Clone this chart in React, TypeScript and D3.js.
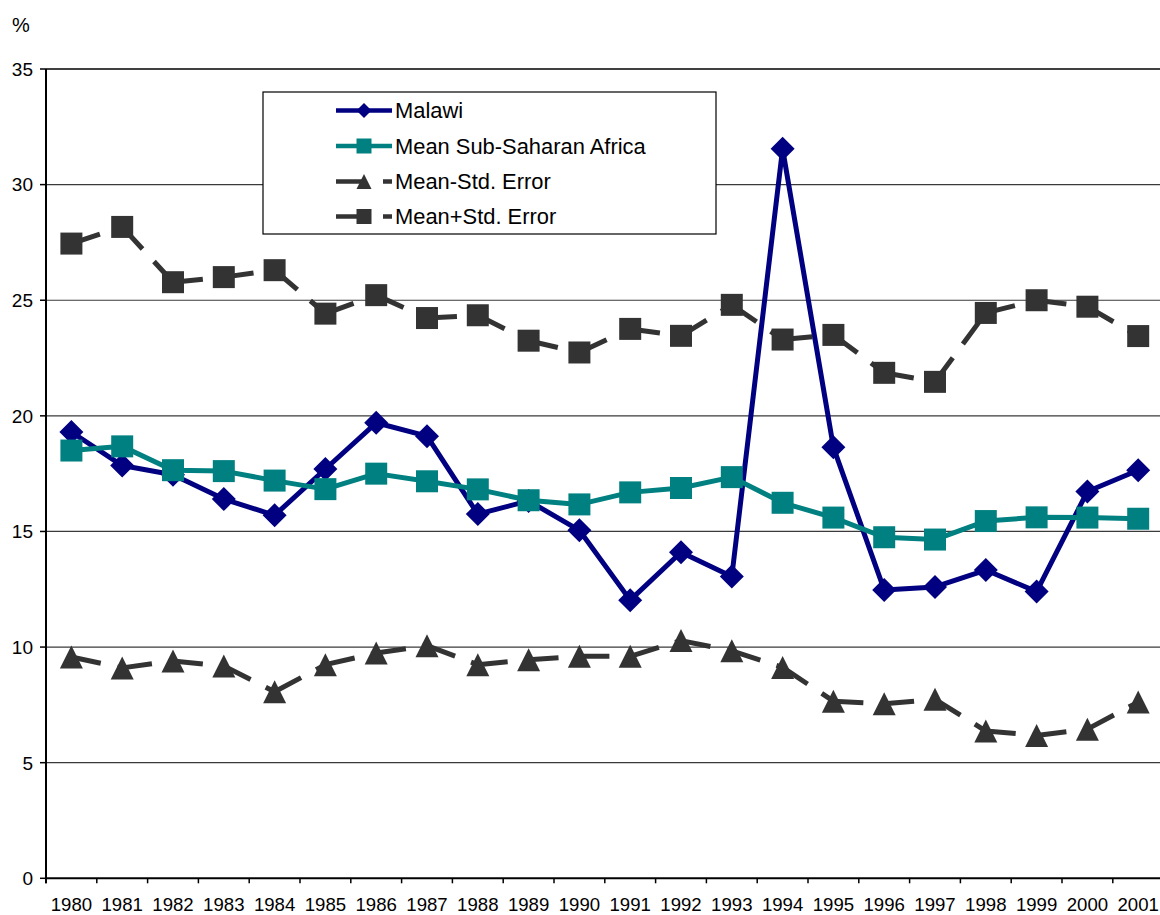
import React from "react";
import * as d3 from "d3";

const years = [
  "1980", "1981", "1982", "1983", "1984", "1985", "1986", "1987", "1988", "1989", "1990",
  "1991", "1992", "1993", "1994", "1995", "1996", "1997", "1998", "1999", "2000", "2001",
];

const malawi = [
  19.3, 17.85, 17.45, 16.4, 15.7, 17.7, 19.7, 19.12, 15.75, 16.32, 15.05,
  12.03, 14.1, 13.05, 31.55, 18.64, 12.47, 12.6, 13.33, 12.4, 16.73, 17.65,
];

const meanSSA = [
  18.5, 18.68, 17.65, 17.61, 17.2, 16.83, 17.5, 17.17, 16.82, 16.35, 16.17,
  16.69, 16.88, 17.35, 16.24, 15.6, 14.75, 14.65, 15.45, 15.61, 15.6, 15.55,
];

const meanMinusSE = [
  9.57, 9.1, 9.4, 9.18, 8.07, 9.24, 9.74, 10.06, 9.24, 9.45, 9.6,
  9.6, 10.28, 9.84, 9.12, 7.66, 7.55, 7.74, 6.37, 6.18, 6.45, 7.62,
];

const meanPlusSE = [
  27.45, 28.17, 25.78, 26.0, 26.3, 24.42, 25.22, 24.23, 24.35, 23.25, 22.74,
  23.76, 23.46, 24.8, 23.3, 23.5, 21.86, 21.47, 24.45, 25.0, 24.72, 23.45,
];

const yTicks = [0, 5, 10, 15, 20, 25, 30, 35];

type Marker = "diamond" | "square" | "triangle";

interface Series {
  name: string;
  values: number[];
  color: string;
  marker: Marker;
  dashed: boolean;
}

const series: Series[] = [
  { name: "Malawi", values: malawi, color: "#000080", marker: "diamond", dashed: false },
  { name: "Mean Sub-Saharan Africa", values: meanSSA, color: "#008080", marker: "square", dashed: false },
  { name: "Mean-Std. Error", values: meanMinusSE, color: "#333333", marker: "triangle", dashed: true },
  { name: "Mean+Std. Error", values: meanPlusSE, color: "#333333", marker: "square", dashed: true },
];

const W = 1160;
const H = 915;
const left = 46;
const right = 1163.6;
const top = 69;
const bottom = 878.3;
const FONT = "'Liberation Sans', Arial, sans-serif";

const x = d3.scaleBand<string>().domain(years).range([left, right]);
const y = d3.scaleLinear().domain([0, 35]).range([bottom, top]);
const cx = (yr: string) => (x(yr) as number) + x.bandwidth() / 2;

function markerPath(kind: Marker, size: number): string {
  const h = size / 2;
  if (kind === "diamond") return `M0,${-h}L${h},0L0,${h}L${-h},0Z`;
  if (kind === "square") return `M${-h},${-h}H${h}V${h}H${-h}Z`;
  return `M0,${-h}L${h},${h}L${-h},${h}Z`;
}

const MarkerShape: React.FC<{ kind: Marker; size: number; color: string; px: number; py: number }> = ({
  kind, size, color, px, py,
}) => <path d={markerPath(kind, size)} transform={`translate(${px},${py})`} fill={color} />;

const SeriesMarks: React.FC<{ s: Series }> = ({ s }) => {
  const pts = s.values.map((v, i) => [cx(years[i]), y(v)] as [number, number]);
  const line = d3.line<[number, number]>().x((p) => p[0]).y((p) => p[1]);
  return (
    <g>
      {s.dashed ? (
        pts.slice(1).map((p, i) => (
          <line
            key={i}
            x1={pts[i][0]}
            y1={pts[i][1]}
            x2={p[0]}
            y2={p[1]}
            stroke={s.color}
            strokeWidth={5}
            strokeDasharray="30 17"
          />
        ))
      ) : (
        <path d={line(pts) ?? ""} fill="none" stroke={s.color} strokeWidth={5} strokeLinejoin="round" />
      )}
      {pts.map((p, i) => (
        <MarkerShape
          key={i}
          kind={s.marker}
          size={s.marker === "diamond" ? 24 : s.marker === "triangle" ? 23 : 22}
          color={s.color}
          px={p[0]}
          py={p[1]}
        />
      ))}
    </g>
  );
};

export default function App() {
  const legendX = 263;
  const legendY = 92;
  const rowY = [110.5, 146, 181.5, 216.5];
  return (
    <svg
      width={W}
      height={H}
      viewBox={`0 0 ${W} ${H}`}
      style={{ position: "absolute", left: 0, top: 0, background: "#fff" }}
      fontFamily={FONT}
    >
      <rect x={0} y={0} width={W} height={H} fill="#fff" />

      {/* horizontal gridlines */}
      {yTicks.filter((t) => t > 0).map((t) => (
        <line
          key={t}
          x1={left}
          x2={W}
          y1={y(t)}
          y2={y(t)}
          stroke={t === 35 ? "#000" : "#3a3a3a"}
          strokeWidth={t === 35 ? 1.6 : 1.2}
        />
      ))}

      {/* y axis */}
      <line x1={left} x2={left} y1={top} y2={bottom + 5} stroke="#000" strokeWidth={2} />
      {yTicks.map((t) => (
        <g key={t}>
          <line x1={left - 6} x2={left} y1={y(t)} y2={y(t)} stroke="#000" strokeWidth={1.5} />
          <text x={33} y={y(t)} dy="0.36em" textAnchor="end" fontSize={19} fill="#000">
            {t}
          </text>
        </g>
      ))}
      <text x={12} y={32} fontSize={20} fill="#000">%</text>

      {/* x axis */}
      <line x1={left} x2={W} y1={bottom} y2={bottom} stroke="#000" strokeWidth={2} />
      {years.map((yr) => (
        <g key={yr}>
          <line x1={x(yr) as number} x2={x(yr) as number} y1={bottom} y2={bottom + 5} stroke="#000" strokeWidth={1.5} />
          <text x={cx(yr)} y={910.5} textAnchor="middle" fontSize={18.6} fill="#000">
            {yr}
          </text>
        </g>
      ))}

      {/* data series */}
      {series.map((s) => (
        <SeriesMarks key={s.name} s={s} />
      ))}

      {/* legend */}
      <rect x={legendX} y={legendY} width={453} height={142} fill="#fff" stroke="#000" strokeWidth={1.2} />
      {series.map((s, i) => (
        <g key={s.name}>
          <line
            x1={336}
            x2={392}
            y1={rowY[i]}
            y2={rowY[i]}
            stroke={s.color}
            strokeWidth={4.5}
            strokeDasharray={s.dashed ? "30 17" : undefined}
          />
          <MarkerShape kind={s.marker} size={15} color={s.color} px={364} py={rowY[i]} />
          <text x={395} y={rowY[i]} dy="0.36em" fontSize={21.9} fill="#000">
            {s.name}
          </text>
        </g>
      ))}
    </svg>
  );
}
